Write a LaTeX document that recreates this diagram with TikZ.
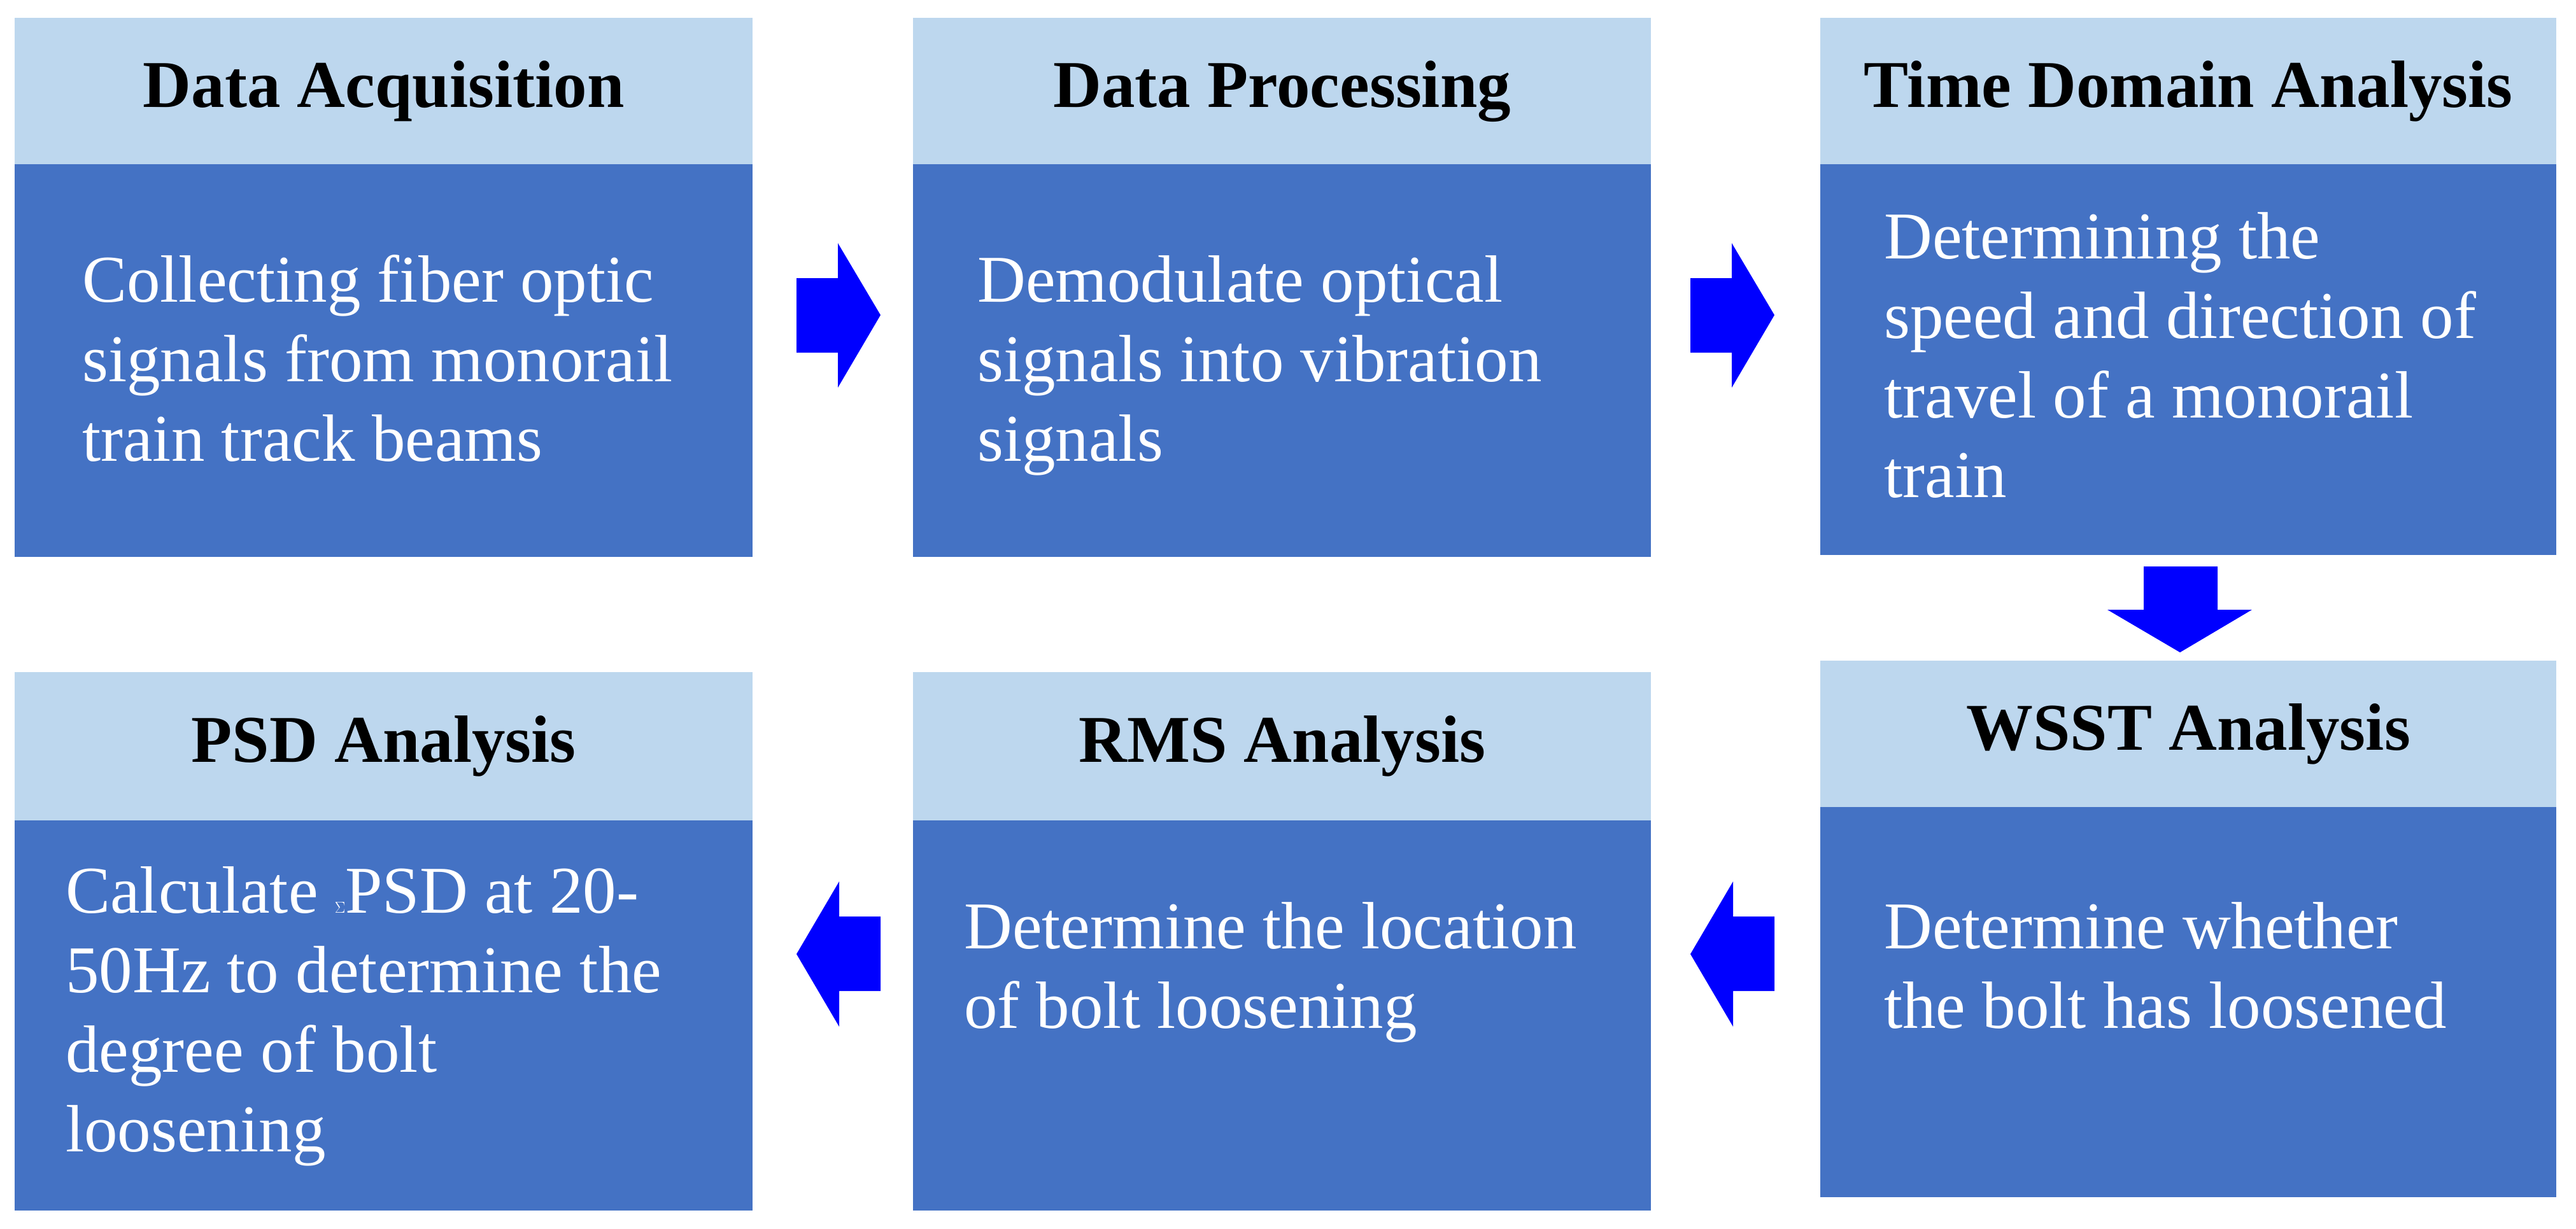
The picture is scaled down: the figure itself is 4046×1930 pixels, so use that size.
\documentclass[tikz,border=0pt]{standalone}
\usepackage{fontspec}
\setmainfont{Liberation Serif}
\begin{document}
\begin{tikzpicture}[x=1pt,y=-1pt,
  head/.style={fill=hdr,draw=none,anchor=north west,inner sep=0,minimum height=230pt,font=\fontsize{105}{125}\selectfont\bfseries},
  body/.style={fill=bdy,draw=none,anchor=north west,inner sep=0},
  txt/.style={anchor=north west,inner sep=0,text=white,align=left,font=\fontsize{105}{125}\selectfont},
  barrow/.style={fill=arw,draw=none}]
\definecolor{hdr}{HTML}{BDD7EE}
\definecolor{bdy}{HTML}{4472C4}
\definecolor{arw}{HTML}{0000FF}
\useasboundingbox (0,0) rectangle (4046,1930);
% row 1
\node[head,minimum width=1159pt] (h1) at (23,28) {Data Acquisition};
\node[body,minimum width=1159pt,minimum height=617pt] (b1) at (23,258) {};
\node[head,minimum width=1159pt] (h2) at (1434,28) {Data Processing};
\node[body,minimum width=1159pt,minimum height=617pt] (b2) at (1434,258) {};
\node[head,minimum width=1156pt] (h3) at (2859,28) {Time Domain Analysis};
\node[body,minimum width=1156pt,minimum height=614pt] (b3) at (2859,258) {};
% row 2
\node[head,minimum width=1159pt,minimum height=233pt] (h4) at (23,1056) {PSD Analysis};
\node[body,minimum width=1159pt,minimum height=613pt] (b4) at (23,1289) {};
\node[head,minimum width=1159pt,minimum height=233pt] (h5) at (1434,1056) {RMS Analysis};
\node[body,minimum width=1159pt,minimum height=613pt] (b5) at (1434,1289) {};
\node[head,minimum width=1156pt] (h6) at (2859,1038) {WSST Analysis};
\node[body,minimum width=1156pt,minimum height=613pt] (b6) at (2859,1268) {};
% texts
\node[txt] (t1) at (129,474-87.5) {\strut Collecting fiber optic\\signals from monorail\\train track beams};
\node[txt] (t2) at (1535,474-87.5) {\strut Demodulate optical\\signals into vibration\\signals};
\node[txt] (t3) at (2959,406-87.5) {\strut Determining the\\speed and direction of\\travel of a monorail\\train};
\node[txt] (t4) at (103,1434-87.5) {\strut Calculate $\Sigma$PSD at 20-\\50Hz to determine the\\degree of bolt\\loosening};
\node[txt] (t5) at (1514,1490-87.5) {\strut Determine the location\\of bolt loosening};
\node[txt] (t6) at (2959,1490-87.5) {\strut Determine whether\\the bolt has loosened};
% arrows
\fill[barrow] (1251,437) -- (1316,437) -- (1316,382) -- (1383,495) -- (1316,609) -- (1316,554) -- (1251,554) -- cycle;
\fill[barrow] (2655,437) -- (2720,437) -- (2720,382) -- (2787,495) -- (2720,609) -- (2720,554) -- (2655,554) -- cycle;
\fill[barrow] (3367,890) -- (3483,890) -- (3483,958) -- (3537,958) -- (3424,1025) -- (3310,958) -- (3367,958) -- cycle;
\fill[barrow] (1383,1440) -- (1318,1440) -- (1318,1385) -- (1251,1499) -- (1318,1613) -- (1318,1557) -- (1383,1557) -- cycle;
\fill[barrow] (2787,1440) -- (2722,1440) -- (2722,1385) -- (2655,1499) -- (2722,1613) -- (2722,1557) -- (2787,1557) -- cycle;
\end{tikzpicture}
\end{document}
